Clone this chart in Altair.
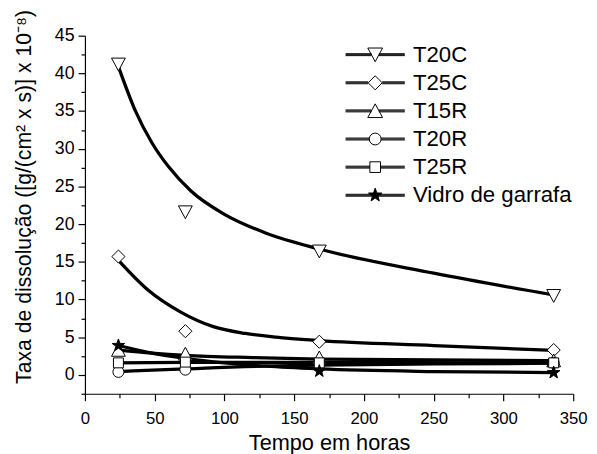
import math
import altair as alt
import pandas as pd

# ---------------- data ----------------
series = ["T20C", "T25C", "T15R", "T20R", "T25R", "Vidro de garrafa"]
hours = [24, 72, 168, 336]
t20c = [41.2, 21.6, 16.4, 10.5]
t25c = [15.7, 5.8, 4.4, 3.3]
t15r = [3.3, 2.8, 2.3, 1.9]
t20r = [0.4, 0.7, 1.5, 1.6]
t25r = [1.6, 1.7, 1.6, 1.6]
vidro = [3.9, None, 0.5, 0.3]

# fitted curves
fit_t20c_x = [24, 36, 48, 60, 76, 100, 130, 168, 250, 336]
fit_t20c_y = [40.9, 35.1, 30.8, 27.6, 24.4, 21.3, 18.8, 16.7, 13.5, 10.6]
fit_t25c_x = [24, 45, 69, 92, 115, 137, 168, 250, 336]
fit_t25c_y = [15.2, 11.3, 8.3, 6.4, 5.5, 5.0, 4.55, 3.9, 3.25]
fit_t15r_x = [24, 48, 72, 120, 168, 250, 336]
fit_t15r_y = [3.3, 2.9, 2.6, 2.3, 2.1, 2.0, 1.9]
fit_t20r_x = [24, 72, 137, 168, 250, 336]
fit_t20r_y = [0.45, 0.8, 1.2, 1.3, 1.45, 1.55]
fit_t25r_x = [24, 72, 168, 336]
fit_t25r_y = [1.6, 1.65, 1.65, 1.6]
fit_vidro_x = [24, 48, 72, 100, 130, 168, 250, 336]
fit_vidro_y = [3.9, 2.9, 2.2, 1.6, 1.15, 0.8, 0.45, 0.3]

x_ticks = list(range(0, 351, 25))
y_ticks = [v / 2 for v in range(-5, 91, 5)]

# ---------------- tables ----------------
measured = [t20c, t25c, t15r, t20r, t25r, vidro]
fits = [(fit_t20c_x, fit_t20c_y), (fit_t25c_x, fit_t25c_y), (fit_t15r_x, fit_t15r_y),
        (fit_t20r_x, fit_t20r_y), (fit_t25r_x, fit_t25r_y), (fit_vidro_x, fit_vidro_y)]

pt_rows = []
for s, vals in zip(series, measured):
    for h, v in zip(hours, vals):
        if v is not None:
            pt_rows.append({"serie": s, "x": h, "y": v})
points_df = pd.DataFrame(pt_rows)

fit_rows = []
for s, (fx, fy) in zip(series, fits):
    for a, b in zip(fx, fy):
        fit_rows.append({"serie": s, "x": a, "y": b})
fits_df = pd.DataFrame(fit_rows)

legend_df = pd.DataFrame({"serie": series})

# ---------------- marker shapes ----------------
def star_path(R, r):
    pts = []
    for k in range(10):
        ang = math.radians(-90 + 36 * k)
        rad = R if k % 2 == 0 else r
        pts.append(f"{rad * math.cos(ang):.3f},{rad * math.sin(ang):.3f}")
    return "M" + "L".join(pts) + "Z"

tri_down = "M-1,-0.9L1,-0.9L0,0.95Z"
diamond = "M0,-0.95L0.95,0L0,0.95L-0.95,0Z"
tri_up = "M-1,0.9L1,0.9L0,-0.95Z"
circle = "M-0.8,0A0.8,0.8,0,1,0,0.8,0A0.8,0.8,0,1,0,-0.8,0Z"
square = "M-0.72,-0.72H0.72V0.72H-0.72Z"
star = star_path(0.95, 0.38)
marker_paths = [tri_down, diamond, tri_up, circle, square, star]
gaps = [0.5, 0.95, 0.5, 0.8, 0.72, 0.0]

def with_line(path, e, L=4.0):
    segs = ""
    for dy in (-0.13, 0.0, 0.13):
        segs += f"M{-L},{dy}H{-e}M{e},{dy}H{L}"
    return segs + path

legend_paths = [with_line(p, e) for p, e in zip(marker_paths, gaps)]
fills = ["white", "white", "white", "white", "white", "black"]

FONT = "Liberation Sans"

x_enc = alt.X(
    "x:Q",
    scale=alt.Scale(domain=[0, 350], nice=False, zero=False),
    axis=alt.Axis(
        values=x_ticks,
        labelExpr="datum.value % 50 === 0 ? datum.label : ''",
        tickSize={"condition": {"test": "datum.value % 50 === 0", "value": 7}, "value": 4},
        labelPadding=10,
        labelFlush=False,
        labelOverlap=False,
        labelFontSize=17,
        titleFontSize=22,
        titleY=56.5,
        titleBaseline="alphabetic",
        title="Tempo em horas",
    ),
)
y_enc = alt.Y(
    "y:Q",
    scale=alt.Scale(domain=[-2.5, 45], nice=False, zero=False),
    axis=alt.Axis(
        values=y_ticks,
        labelExpr="datum.value % 5 === 0 ? datum.label : ''",
        tickSize={"condition": {"test": "datum.value % 5 === 0", "value": 7}, "value": 4},
        labelPadding=4,
        labelOverlap=False,
        labelFontSize=18,
        titleFontSize=21.5,
        titleX=-55,
        titleY=163,
        titleAlign="center",
        titleBaseline="alphabetic",
        title="Taxa de dissolução ([g/(cm² x s)] x 10⁻⁸)",
    ),
)

lines = alt.Chart(fits_df).mark_line(
    interpolate="monotone", color="black", strokeWidth=3.3
).encode(x=x_enc, y=y_enc, detail="serie:N")

pts = alt.Chart(points_df).mark_point(
    stroke="black", strokeWidth=1, size=196, opacity=1
).encode(
    x=x_enc,
    y=y_enc,
    shape=alt.Shape("serie:N", scale=alt.Scale(domain=series, range=marker_paths), legend=None),
    fill=alt.Fill("serie:N", scale=alt.Scale(domain=series, range=fills), legend=None),
)

leg_props = dict(
    title=None,
    orient="none",
    legendX=283,
    legendY=8,
    padding=0,
    symbolSize=225,
    symbolStrokeWidth=1,
    symbolStrokeColor="black",
    symbolFillColor="white",
    symbolOpacity=1,
    labelFont=FONT,
    labelFontSize=22.5,
    labelColor="black",
    labelOffset=27,
    labelLimit=400,
    rowPadding=5.5,
)

dummy = alt.Chart(legend_df).mark_point(stroke="black", opacity=0).encode(
    x=alt.value(0),
    y=alt.value(0),
    shape=alt.Shape("serie:N", scale=alt.Scale(domain=series, range=legend_paths),
                    legend=alt.Legend(**leg_props)),
    fill=alt.Fill("serie:N", scale=alt.Scale(domain=series, range=fills),
                  legend=alt.Legend(**leg_props)),
)

chart = (
    alt.layer(lines, pts, dummy)
    .resolve_scale(shape="independent", fill="independent")
    .properties(
        width=495,
        height=363,
        autosize=alt.AutoSizeParams(type="none"),
        padding={"left": 78, "top": 25, "right": 16, "bottom": 58},
        background="white",
    )
    .configure_view(stroke=None)
    .configure_axis(
        grid=False,
        domainColor="black",
        domainWidth=1.2,
        tickColor="black",
        tickWidth=1.2,
        labelColor="black",
        titleColor="black",
        labelFont=FONT,
        titleFont=FONT,
        titleFontWeight="normal",
    )
)

chart.save("out.html", embed_options={"renderer": "svg", "actions": False})
